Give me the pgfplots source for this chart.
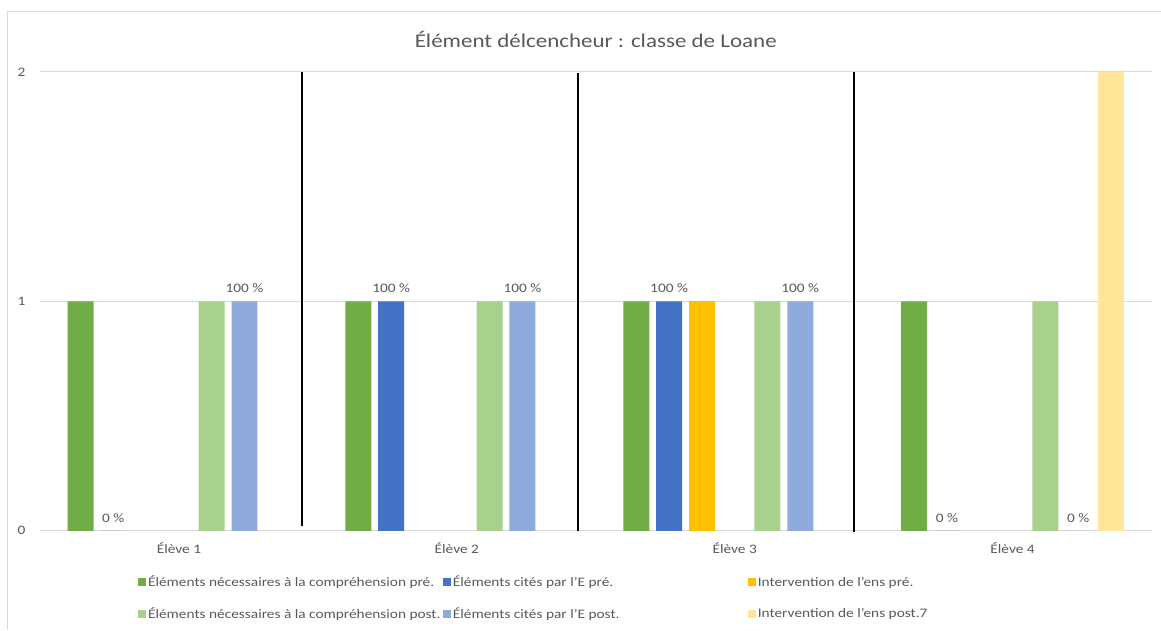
\documentclass[border=0pt]{standalone}
\usepackage{pgfplots}
\pgfplotsset{compat=1.18}
\usepackage{fontspec}
\setmainfont{Carlito}[FakeStretch=1.18]
\definecolor{txt}{HTML}{595959}
\definecolor{cA}{HTML}{70AD47}
\definecolor{cB}{HTML}{4472C4}
\definecolor{cC}{HTML}{FFC000}
\definecolor{cD}{HTML}{A9D18E}
\definecolor{cE}{HTML}{8FAADC}
\definecolor{cF}{HTML}{FFE699}
\pgfplotsset{
  mybar/.style={ybar, fill=#1, draw=none, bar shift=0pt, bar width=0.0935,
    legend image code/.code={\fill[#1] (0pt,-4pt) rectangle (8pt,4pt);}},
}
\begin{document}
\begin{tikzpicture}[x=1pt,y=1pt]
\path (0,0) rectangle (1161,630);
\draw[black!15, line width=1pt] (8,0) -- (8,618) -- (1161,618);
\node[text=txt, font=\fontsize{19.5}{23}\selectfont] at (596,591) {Élément délcencheur : classe de Loane};
\begin{axis}[
  at={(40pt,99pt)}, anchor=south west,
  scale only axis, width=1112pt, height=459pt,
  xmin=-0.5, xmax=3.5, ymin=0, ymax=2,
  ytick={0,1,2}, xtick={0,1,2,3},
  xticklabels={Élève 1,Élève 2,Élève 3,Élève 4},
  axis line style={draw=none},
  major tick length=0pt,
  ymajorgrids, grid style={black!15, line width=1pt},
  /pgf/number format/assume math mode=true,
  tick label style={text=txt, font=\fontsize{13}{15}\selectfont},
  yticklabel style={xshift=-11pt},
  xticklabel style={yshift=-8pt},
  clip=false,
  legend columns=3,
  legend cell align=left,
  legend style={at={(axis description cs:0.0881,-0.094)}, anchor=north west,
    draw=none, fill=none, font=\fontsize{13}{15}\selectfont, text=txt,
    row sep=15pt, inner sep=0pt,
    /tikz/every even column/.append style={column sep=0pt}},
  every node near coord/.append style={text=txt, font=\fontsize{13}{15}\selectfont, anchor=south, yshift=5pt},
]
\addplot[mybar=cA] coordinates {(-0.354,1) (0.646,1) (1.646,1) (2.646,1)};
\addlegendentry{\makebox[293pt][l]{Éléments nécessaires à la compréhension pré.}}
\addplot[mybar=cB, nodes near coords, point meta=explicit symbolic] coordinates {(-0.236,0) [0 \%] (0.764,1) [100 \%] (1.764,1) [100 \%] (2.764,0) [0 \%]};
\addlegendentry{\makebox[293pt][l]{Éléments cités par l'E pré.}}
\addplot[mybar=cC] coordinates {(1.882,1)};
\addlegendentry{\makebox[293pt][l]{Intervention de l'ens pré.}}
\addplot[mybar=cD] coordinates {(0.118,1) (1.118,1) (2.118,1) (3.118,1)};
\addlegendentry{\makebox[293pt][l]{Éléments nécessaires à la compréhension post.}}
\addplot[mybar=cE, nodes near coords, point meta=explicit symbolic] coordinates {(0.236,1) [100 \%] (1.236,1) [100 \%] (2.236,1) [100 \%] (3.236,0) [0 \%]};
\addlegendentry{\makebox[293pt][l]{Éléments cités par l'E post.}}
\addplot[mybar=cF] coordinates {(3.354,2)};
\addlegendentry{\makebox[293pt][l]{Intervention de l'ens post.7}}
\draw[black, line width=2pt] (axis cs:0.442,0.02) -- (axis cs:0.442,2);
\draw[black, line width=2pt] (axis cs:1.435,0) -- (axis cs:1.435,1.995);
\draw[black, line width=2pt] (axis cs:2.428,-0.005) -- (axis cs:2.428,2);
\end{axis}
\end{tikzpicture}
\end{document}
